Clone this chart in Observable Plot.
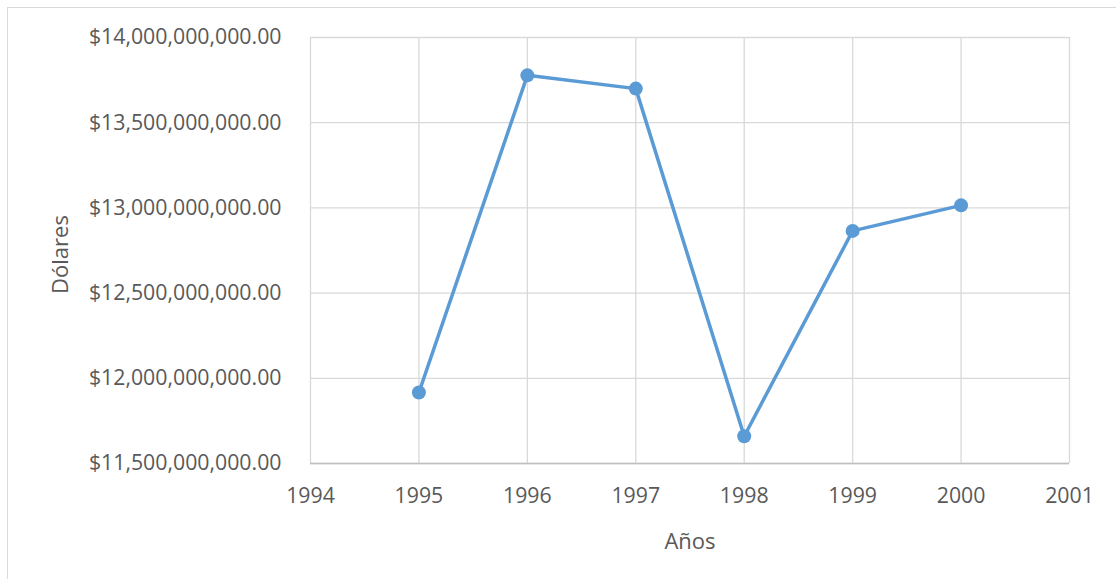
<!DOCTYPE html>
<html>
<head>
<meta charset="utf-8">
<script src="https://cdn.jsdelivr.net/npm/d3@7"></script>
<script src="https://cdn.jsdelivr.net/npm/@observablehq/plot@0.6"></script>
<style>
  html, body { margin: 0; padding: 0; background: #ffffff; width: 1116px; height: 579px; overflow: hidden; }
  #frame { position: absolute; left: 7px; top: 7px; width: 1200px; height: 700px; border: 1px solid #d9d9d9; box-sizing: border-box; }
  #chart { position: absolute; left: 0; top: 0; }
</style>
</head>
<body>
<div id="frame"></div>
<div id="chart"></div>
<script>
const years = [1995, 1996, 1997, 1998, 1999, 2000];
const dollars = [11917000000, 13778000000, 13700000000, 11660000000, 12865000000, 13015000000];
const xTicks = [1994, 1995, 1996, 1997, 1998, 1999, 2000, 2001];
const yTicks = [11500000000, 12000000000, 12500000000, 13000000000, 13500000000, 14000000000];
const xLabel = "Años";
const yLabel = "Dólares";

const data = years.map((y, i) => ({year: y, value: dollars[i]}));
const fmt = d3.format(",.2f");
const color = "#5b9bd5";
const grid = "#d9d9d9";
const textColor = "#595959";

const chart = Plot.plot({
  width: 1116,
  height: 579,
  marginLeft: 310,
  marginRight: 47,
  marginTop: 37,
  marginBottom: 116,
  style: {fontFamily: "'Open Sans', sans-serif", fontSize: "21.3px", color: textColor, background: "transparent"},
  x: {domain: [1994, 2001]},
  y: {domain: [11500000000, 14000000000]},
  marks: [
    Plot.gridX(xTicks, {stroke: grid, strokeOpacity: 1, strokeWidth: 1.3}),
    Plot.gridY(yTicks, {stroke: grid, strokeOpacity: 1, strokeWidth: 1.3}),
    Plot.ruleY([yTicks[0]], {stroke: "#bfbfbf", strokeWidth: 1.5}),
    Plot.axisX(xTicks, {tickSize: 0, tickPadding: 24, tickFormat: d => String(d), label: null, fill: textColor}),
    Plot.axisY(yTicks, {tickSize: 0, tickPadding: 29, tickFormat: d => "$" + fmt(d), label: null, fill: textColor}),
    Plot.line(data, {x: "year", y: "value", stroke: color, strokeWidth: 3.5}),
    Plot.dot(data, {x: "year", y: "value", r: 7, fill: color, stroke: "none"}),
    Plot.text([xLabel], {frameAnchor: "bottom", lineAnchor: "bottom", dy: 85, text: d => d, fill: textColor, fontSize: 22}),
    Plot.text([yLabel], {frameAnchor: "left", textAnchor: "middle", lineAnchor: "middle", rotate: -90, dx: -250, dy: 4, text: d => d, fill: textColor, fontSize: 22})
  ]
});
document.getElementById("chart").appendChild(chart);
</script>
</body>
</html>
